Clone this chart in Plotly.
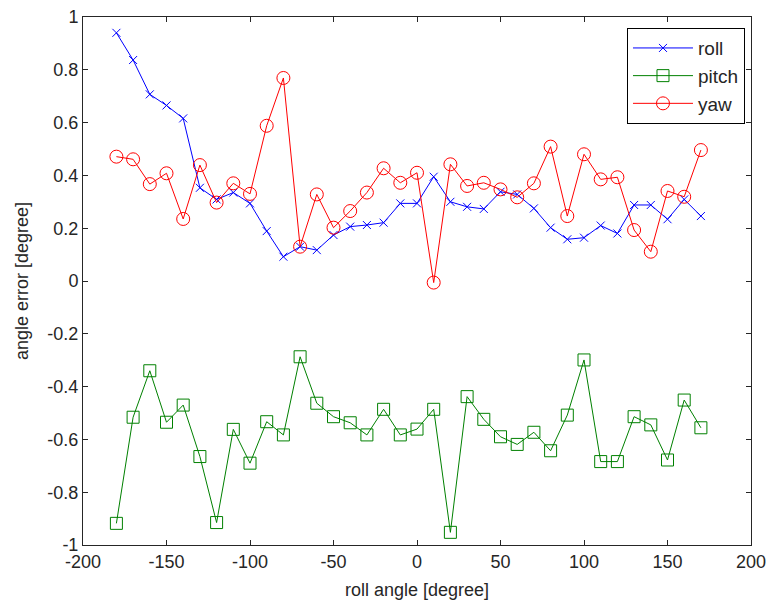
import plotly.graph_objects as go

roll_angle = [-180, -170, -160, -150, -140, -130, -120, -110, -100, -90, -80, -70,
              -60, -50, -40, -30, -20, -10, 0, 10, 20, 30, 40, 50,
              60, 70, 80, 90, 100, 110, 120, 130, 140, 150, 160, 170]

roll = [0.94, 0.837, 0.707, 0.665, 0.616, 0.353, 0.309, 0.335, 0.294, 0.189, 0.092, 0.13,
        0.117, 0.174, 0.206, 0.212, 0.221, 0.294, 0.294, 0.395, 0.30, 0.281, 0.273, 0.338,
        0.328, 0.275, 0.202, 0.158, 0.164, 0.21, 0.18, 0.288, 0.288, 0.234, 0.309, 0.246]

pitch = [-0.918, -0.516, -0.34, -0.535, -0.47, -0.665, -0.915, -0.562, -0.69, -0.533, -0.583, -0.287,
         -0.463, -0.514, -0.537, -0.583, -0.486, -0.583, -0.561, -0.486, -0.952, -0.438, -0.524, -0.59,
         -0.619, -0.573, -0.643, -0.508, -0.299, -0.684, -0.684, -0.514, -0.545, -0.678, -0.451, -0.556]

yaw = [0.471, 0.461, 0.367, 0.408, 0.235, 0.439, 0.297, 0.37, 0.33, 0.588, 0.769, 0.13,
       0.328, 0.202, 0.265, 0.335, 0.427, 0.372, 0.41, -0.006, 0.442, 0.36, 0.372, 0.347,
       0.317, 0.37, 0.509, 0.246, 0.48, 0.385, 0.393, 0.193, 0.111, 0.341, 0.319, 0.496]

x_ticks = [-200, -150, -100, -50, 0, 50, 100, 150, 200]
x_tick_labels = ["-200", "-150", "-100", "-50", "0", "50", "100", "150", "200"]
y_ticks = [-1, -0.8, -0.6, -0.4, -0.2, 0, 0.2, 0.4, 0.6, 0.8, 1]
y_tick_labels = ["-1", "-0.8", "-0.6", "-0.4", "-0.2", "0", "0.2", "0.4", "0.6", "0.8", "1"]

FONT = "Liberation Sans, Arial"
TXT = "#262626"

fig = go.Figure()
fig.add_trace(go.Scatter(x=roll_angle, y=roll, name="roll", mode="lines+markers",
                         line=dict(color="#0000FF", width=1),
                         marker=dict(symbol="x-thin-open", size=8, color="#0000FF",
                                     line=dict(color="#0000FF", width=1))))
fig.add_trace(go.Scatter(x=roll_angle, y=pitch, name="pitch", mode="lines+markers",
                         line=dict(color="#008000", width=1),
                         marker=dict(symbol="square-open", size=12, color="#008000",
                                     line=dict(color="#008000", width=1))))
fig.add_trace(go.Scatter(x=roll_angle, y=yaw, name="yaw", mode="lines+markers",
                         line=dict(color="#FF0000", width=1),
                         marker=dict(symbol="circle-open", size=13, color="#FF0000",
                                     line=dict(color="#FF0000", width=1))))

axis_common = dict(showgrid=False, zeroline=False, showline=True, linecolor="#262626",
                   linewidth=1, mirror="ticks", ticks="inside", ticklen=5, automargin=False,
                   tickcolor="#262626", tickfont=dict(family=FONT, size=18, color=TXT))

fig.update_xaxes(range=[-200, 200], tickvals=x_ticks, ticktext=x_tick_labels,
                 ticklabelstandoff=0,
                 title=dict(text="roll angle [degree]", font=dict(family=FONT, size=18, color=TXT), standoff=12),
                 **axis_common)
fig.update_yaxes(range=[-1, 1], tickvals=y_ticks, ticktext=y_tick_labels,
                 ticklabelstandoff=0,
                 title=dict(text="angle error [degree]", font=dict(family=FONT, size=18, color=TXT), standoff=14),
                 **axis_common)

fig.update_layout(
    width=769, height=604,
    margin=dict(l=83, r=18, t=17, b=59),
    paper_bgcolor="white", plot_bgcolor="white",
    showlegend=True,
    legend=dict(x=0.991, y=0.979, xanchor="right", yanchor="top",
                bordercolor="black", borderwidth=1, bgcolor="white",
                font=dict(family=FONT, size=19, color=TXT),
                tracegroupgap=0, itemwidth=60),
)

fig.write_html("out.html", config={"displayModeBar": False},
               post_script="document.body.style.margin='0';document.body.style.overflow='hidden';")
